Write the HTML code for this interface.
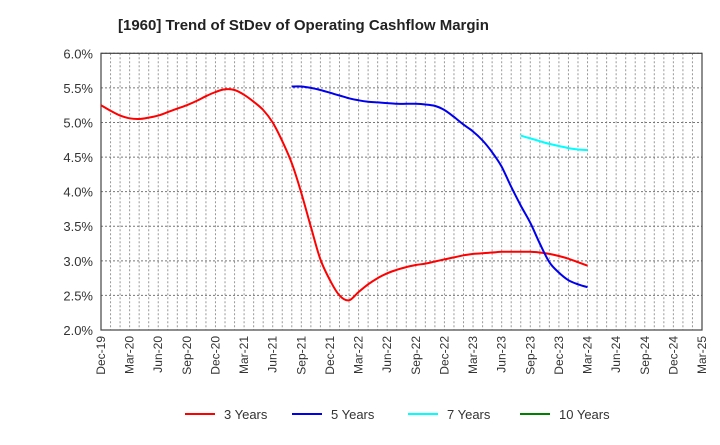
<!DOCTYPE html>
<html><head><meta charset="utf-8"><style>
body{margin:0;background:#fff;font-family:"Liberation Sans",Arial,sans-serif;}
</style></head><body>
<svg id="chart" width="720" height="440" xmlns="http://www.w3.org/2000/svg" font-family="Liberation Sans, Arial, sans-serif">
<text x="118" y="30" font-size="15" font-weight="bold" fill="#222">[1960]  Trend of StDev of Operating Cashflow Margin</text>
<g id="grid"></g><g id="axes"></g><g id="series"></g>
<g id="legend"></g>
</svg>
<script>
const xLabels=["Dec-19","Mar-20","Jun-20","Sep-20","Dec-20","Mar-21","Jun-21","Sep-21","Dec-21","Mar-22","Jun-22","Sep-22","Dec-22","Mar-23","Jun-23","Sep-23","Dec-23","Mar-24","Jun-24","Sep-24","Dec-24","Mar-25"];
const yTicks=[2.0,2.5,3.0,3.5,4.0,4.5,5.0,5.5,6.0];
const red3=[5.25,5.17,5.10,5.06,5.05,5.07,5.10,5.15,5.20,5.25,5.31,5.38,5.44,5.48,5.47,5.40,5.30,5.18,5.00,4.73,4.41,3.98,3.49,3.02,2.72,2.50,2.43,2.55,2.66,2.75,2.82,2.87,2.91,2.94,2.96,2.99,3.02,3.05,3.08,3.10,3.11,3.12,3.13,3.13,3.13,3.13,3.12,3.10,3.07,3.03,2.98,2.93];
const blue5Start=20;
const blue5=[5.52,5.52,5.50,5.47,5.43,5.39,5.35,5.32,5.30,5.29,5.28,5.27,5.27,5.27,5.26,5.24,5.18,5.08,4.97,4.87,4.74,4.57,4.36,4.07,3.80,3.55,3.25,2.98,2.83,2.72,2.66,2.62];
const cyan7Start=44;
const cyan7=[4.81,4.77,4.73,4.69,4.66,4.63,4.61,4.60];
const green10=[];
const L=101,R=702,T=53.3,B=330,months=63;
const NS="http://www.w3.org/2000/svg";
function x(m){return L+(R-L)*m/months;}
function y(v){return B-(v-2)/4*(B-T);}
function el(t,a,p){const e=document.createElementNS(NS,t);for(const k in a)e.setAttribute(k,a[k]);p.appendChild(e);return e;}
const grid=document.getElementById('grid'),axes=document.getElementById('axes'),ser=document.getElementById('series'),leg=document.getElementById('legend');
for(let m=1;m<months;m++){const g=el('line',{x1:x(m),x2:x(m),y1:T,y2:B,stroke:'#999','stroke-dasharray':'2,2','stroke-width':1},grid);

}
yTicks.forEach(v=>{const g=el('line',{x1:L,x2:R,y1:y(v),y2:y(v),stroke:'#777','stroke-dasharray':'2,2','stroke-width':1},grid);


const t=el('text',{x:L-8,y:y(v)+5,'text-anchor':'end','font-size':13,fill:'#333'},axes);t.textContent=v.toFixed(1)+'%';

});
const fr=el('rect',{x:L,y:T,width:R-L,height:B-T,fill:'none',stroke:'#444','stroke-width':1.2},axes);


xLabels.forEach((s,i)=>{const xx=x(i*3);const t=el('text',{x:0,y:0,transform:`translate(${xx+4},${B+6}) rotate(-90)`,'text-anchor':'end','font-size':12,fill:'#333'},axes);t.textContent=s;

});
function line(arr,start,color,name){if(!arr.length)return;
const P=arr.map((v,i)=>[x(start+i),y(v)]);
let d='M'+P[0][0].toFixed(1)+','+P[0][1].toFixed(1);
for(let i=0;i<P.length-1;i++){const p0=P[Math.max(0,i-1)],p1=P[i],p2=P[i+1],p3=P[Math.min(P.length-1,i+2)];
const c1x=p1[0]+(p2[0]-p0[0])/6,c1y=p1[1]+(p2[1]-p0[1])/6,c2x=p2[0]-(p3[0]-p1[0])/6,c2y=p2[1]-(p3[1]-p1[1])/6;
d+=` C${c1x.toFixed(1)},${c1y.toFixed(1)} ${c2x.toFixed(1)},${c2y.toFixed(1)} ${p2[0].toFixed(1)},${p2[1].toFixed(1)}`;}
const p=el('path',{d:d,fill:'none',stroke:color,'stroke-width':2,'stroke-linejoin':'round'},ser);

}
line(red3,0,'#ff0000','series-3-years');
line(blue5,blue5Start,'#0000ee','series-5-years');
line(cyan7,cyan7Start,'#00ffff','series-7-years');
line(green10,0,'#008000','series-10-years');
[["3 Years","#ff0000",185],["5 Years","#0000ee",292],["7 Years","#00ffff",408],["10 Years","#008000",520]].forEach(([s,c,lx])=>{
const g=el('g',{},leg);


el('line',{x1:lx,x2:lx+30,y1:414,y2:414,stroke:c,'stroke-width':2},g);
const t=el('text',{x:lx+39,y:419,'font-size':13,fill:'#333'},g);t.textContent=s;});
</script>
</body></html>
